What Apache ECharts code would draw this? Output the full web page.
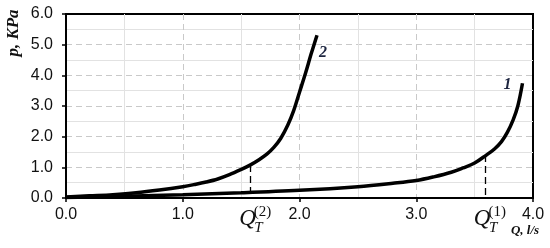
<!DOCTYPE html>
<html>
<head>
<meta charset="utf-8">
<style>
  html, body { margin: 0; padding: 0; background: #fff; }
  #chart { width: 550px; height: 248px; }
</style>
<script src="https://cdn.jsdelivr.net/npm/echarts@6/dist/echarts.min.js"></script>
</head>
<body>
<div id="chart"></div>
<script>
// curve 1 (Q, p)
var q1 = [0, 0.5, 1.0, 1.5, 2.0, 2.5, 2.8, 3.0, 3.15, 3.3, 3.4, 3.5, 3.6, 3.67, 3.73, 3.78, 3.83, 3.87, 3.91];
var p1 = [0.02, 0.06, 0.11, 0.17, 0.25, 0.37, 0.48, 0.57, 0.69, 0.84, 0.98, 1.14, 1.40, 1.6, 1.84, 2.14, 2.55, 3.0, 3.74];
// curve 2 (Q, p)
var q2 = [0, 0.2, 0.4, 0.6, 0.8, 1.0, 1.1, 1.2, 1.3, 1.4, 1.5, 1.58, 1.65, 1.72, 1.78, 1.84, 1.9, 1.95, 2.0, 2.05, 2.1, 2.15];
var p2 = [0.03, 0.07, 0.11, 0.17, 0.26, 0.37, 0.44, 0.52, 0.62, 0.76, 0.93, 1.08, 1.24, 1.43, 1.65, 1.95, 2.38, 2.85, 3.45, 4.05, 4.7, 5.31];
// transition points Q_T and their pressures
var qtNames = ['(1)', '(2)'];
var qtQ = [3.59, 1.58];
var qtP = [1.40, 1.08];
var curveNames = ['1', '2'];

function pairs(xs, ys) {
    return xs.map(function (x, i) { return [x, ys[i]]; });
}

var myChart = echarts.init(document.getElementById('chart'));

var serif = '"Times New Roman", "Liberation Serif", serif';
var sans = 'Arial, "Liberation Sans", sans-serif';

function curve(name, data, qi, off) {
    return {
        name: name,
        type: 'line',
        data: data,
        smooth: 0.35,
        showSymbol: false,
        lineStyle: { color: '#000', width: 3.5 },
        endLabel: {
            show: true,
            formatter: name,
            distance: 0,
            offset: off,
            fontFamily: serif,
            fontStyle: 'italic',
            fontWeight: 'bold',
            fontSize: 16,
            color: '#1d2540'
        },
        markLine: {
            silent: true,
            symbol: 'none',
            label: { show: false },
            lineStyle: { color: '#000', type: [7, 4], width: 1.3 },
            data: [[{ coord: [qtQ[qi], qtP[qi]] }, { coord: [qtQ[qi], 0] }]]
        },
        z: 5
    };
}

function axisCommon(max, margin) {
    return {
        type: 'value', min: 0, max: max, interval: 1,
        axisLine: { show: true, lineStyle: { color: '#000', width: 2 } },
        axisTick: { show: true, length: 4, lineStyle: { color: '#000', width: 1.5 } },
        axisLabel: {
            margin: margin, fontSize: 16, fontFamily: sans, color: '#111',
            formatter: function (v) { return v.toFixed(1); }
        },
        splitLine: {
            show: true, showMinLine: false, showMaxLine: false,
            lineStyle: { color: '#c9c9c9', type: [6, 4], width: 1 }
        },
        minorTick: { show: false, splitNumber: 2 },
        minorSplitLine: { show: true, lineStyle: { color: '#e2e2e2', width: 1 } }
    };
}

myChart.setOption({
    animation: false,
    backgroundColor: '#fff',
    grid: {
        left: 66, right: 17, top: 14, bottom: 50,
        show: true, borderColor: '#000', borderWidth: 2, backgroundColor: '#fff'
    },
    xAxis: axisCommon(4, 9),
    yAxis: axisCommon(6, 13),
    series: [
        curve(curveNames[0], pairs(q1, p1), 0, [-19, 2]),
        curve(curveNames[1], pairs(q2, p2), 1, [2, 18])
    ]
});

// axis titles and Q_T labels
function txt(x, y, text, size, style, weight, rot) {
    var el = {
        type: 'text', x: x, y: y,
        style: {
            text: text, fill: '#111', align: 'center', verticalAlign: 'middle',
            fontFamily: serif, fontSize: size, fontStyle: style, fontWeight: weight
        }
    };
    if (rot) el.rotation = rot;
    return el;
}

var g = [];
g.push(txt(14, 33, 'p, KPa', 17, 'italic', 'bold', Math.PI / 2));
g.push(txt(525, 231, 'Q, l/s', 13, 'italic', 'bold'));
qtQ.forEach(function (q, i) {
    var px = myChart.convertToPixel({ gridIndex: 0 }, [q, 0])[0];
    g.push(txt(px - 3, 219, 'Q', 23, 'italic', 'normal'));
    g.push(txt(px + 12, 212, qtNames[i], 15, 'normal', 'normal'));
    g.push(txt(px + 8, 228, 'T', 15, 'italic', 'normal'));
});
myChart.setOption({ graphic: g });
</script>
</body>
</html>
